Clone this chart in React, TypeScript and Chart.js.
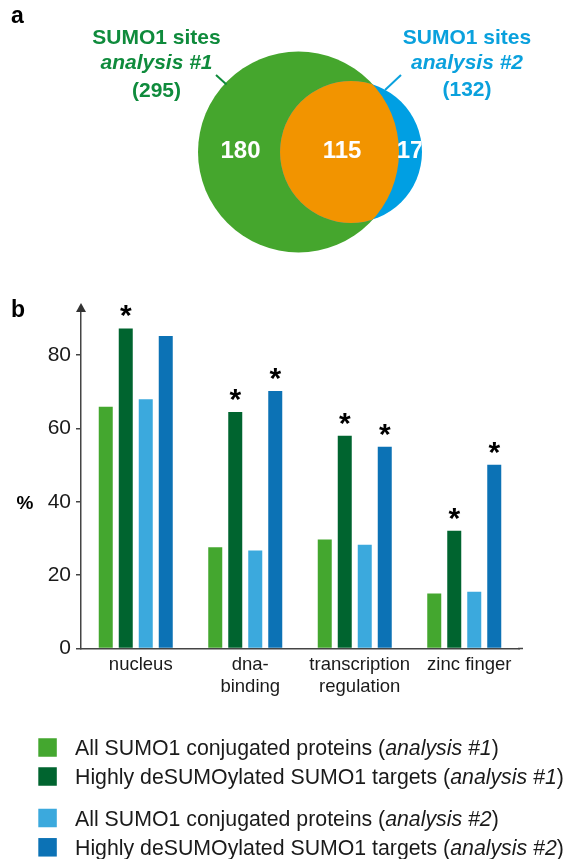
import React, { useEffect, useRef } from 'react';
import { Chart, registerables } from 'chart.js';

Chart.register(...registerables);

const FONT = '"Liberation Sans", Arial, Helvetica, sans-serif';
Chart.defaults.font.family = FONT;

// ---------- panel a : Venn diagram data ----------
const vennSetTitles = ['SUMO1 sites', 'SUMO1 sites'];
const vennSetAnalyses = ['analysis #1', 'analysis #2'];
const vennSetTotals = [295, 132];
const vennRegionCounts = [180, 115, 17]; // only #1, overlap, only #2

// ---------- panel b : grouped bar data ----------
const categories = [['nucleus'], ['dna-', 'binding'], ['transcription', 'regulation'], ['zinc finger']];
const seriesNames = [
  'All SUMO1 conjugated proteins',
  'Highly deSUMOylated SUMO1 targets',
  'All SUMO1 conjugated proteins',
  'Highly deSUMOylated SUMO1 targets',
];
const seriesAnalyses = ['analysis #1', 'analysis #1', 'analysis #2', 'analysis #2'];
const allConjugated1 = [65.9, 27.6, 29.7, 15.0];
const highlyDeSumo1 = [87.3, 64.5, 58.0, 32.1];
const allConjugated2 = [68.0, 26.7, 28.3, 15.5];
const highlyDeSumo2 = [85.2, 70.2, 55.0, 50.1];
const sigAllConjugated1 = [false, false, false, false];
const sigHighlyDeSumo1 = [true, true, true, true];
const sigAllConjugated2 = [false, false, false, false];
const sigHighlyDeSumo2 = [false, true, true, true];
const yTickValues = [0, 20, 40, 60, 80];
const yAxisMax = 91.5;

// ---------- styles / layout ----------
const BAR_COLORS = ['#44a72f', '#00642f', '#3ba9dd', '#0c72b5'];
const VENN_GREEN = '#45a62d';
const VENN_BLUE = '#009fe3';
const VENN_ORANGE = '#f29400';
const TITLE_COLORS = ['#0f8b3c', '#0aa1dd'];
const AXIS = '#444444';
const TEXT = '#1a1a1a';

const VENN_W = 568;
const VENN_H = 285;
const vennCircles = [
  { x: 298.5, y: 152, r: 100.5 },
  { x: 351, y: 152, r: 71 },
];
const vennCountPos = [
  { x: 240.5, y: 151 },
  { x: 342, y: 151 },
  { x: 410, y: 151 },
];
const vennTitlePos = [
  { x: 156.5, y: [43.5, 68.5, 96.5] },
  { x: 467, y: [44, 69, 96] },
];
const vennLeaders = [
  [216, 75, 226.5, 84.5],
  [385, 90, 401, 75],
];

const BAR_TOP = 290;
const BAR_H = 569;
const legendRowY = [747.5, 776.5, 818, 847.3];

const vennPlugin = {
  id: 'vennDecor',
  beforeDatasetDraw(chart: any, args: any) {
    if (chart.data.datasets[args.index].label !== 'overlap') return;
    const g = chart.getDatasetMeta(2).data[0];
    const ctx = chart.ctx;
    ctx.save();
    ctx.beginPath();
    ctx.arc(g.x, g.y, g.options.radius, 0, Math.PI * 2);
    ctx.clip();
  },
  afterDatasetDraw(chart: any, args: any) {
    if (chart.data.datasets[args.index].label !== 'overlap') return;
    chart.ctx.restore();
  },
  afterDraw(chart: any) {
    const ctx = chart.ctx;
    const sx = chart.scales.x;
    const sy = chart.scales.y;
    const px = (v: number) => sx.getPixelForValue(v);
    const py = (v: number) => sy.getPixelForValue(v);

    // panel letter
    ctx.save();
    ctx.fillStyle = '#000';
    ctx.font = `bold 23px ${FONT}`;
    ctx.textAlign = 'left';
    ctx.textBaseline = 'alphabetic';
    ctx.fillText('a', 11, 22.7);

    // set titles
    for (let i = 0; i < 2; i++) {
      const p = vennTitlePos[i];
      ctx.fillStyle = TITLE_COLORS[i];
      ctx.textAlign = 'center';
      ctx.font = `bold 21px ${FONT}`;
      ctx.fillText(vennSetTitles[i], px(p.x), py(p.y[0]));
      ctx.font = `italic bold 21px ${FONT}`;
      ctx.fillText(vennSetAnalyses[i], px(p.x), py(p.y[1]));
      ctx.font = `bold 21px ${FONT}`;
      ctx.fillText(`(${vennSetTotals[i]})`, px(p.x), py(p.y[2]));
      const l = vennLeaders[i];
      ctx.strokeStyle = TITLE_COLORS[i];
      ctx.lineWidth = 2;
      ctx.beginPath();
      ctx.moveTo(px(l[0]), py(l[1]));
      ctx.lineTo(px(l[2]), py(l[3]));
      ctx.stroke();
    }

    // region counts
    ctx.fillStyle = '#ffffff';
    ctx.font = `bold 24px ${FONT}`;
    ctx.textAlign = 'center';
    ctx.textBaseline = 'middle';
    for (let i = 0; i < 2; i++) {
      ctx.fillText(String(vennRegionCounts[i]), px(vennCountPos[i].x), py(vennCountPos[i].y));
    }
    const b = chart.getDatasetMeta(1).data[0];
    ctx.save();
    ctx.beginPath();
    ctx.arc(b.x, b.y, b.options.radius, 0, Math.PI * 2);
    ctx.clip();
    ctx.fillText(String(vennRegionCounts[2]), px(vennCountPos[2].x), py(vennCountPos[2].y));
    ctx.restore();
    ctx.restore();
  },
};

const significance = [sigAllConjugated1, sigHighlyDeSumo1, sigAllConjugated2, sigHighlyDeSumo2];

const barPlugin = {
  id: 'barDecor',
  afterDatasetsDraw(chart: any) {
    const ctx = chart.ctx;
    ctx.save();
    ctx.fillStyle = '#000';
    ctx.font = `bold 30px ${FONT}`;
    ctx.textAlign = 'center';
    ctx.textBaseline = 'alphabetic';
    chart.data.datasets.forEach((_: any, di: number) => {
      const meta = chart.getDatasetMeta(di);
      significance[di].forEach((s: boolean, j: number) => {
        if (!s) return;
        const el = meta.data[j];
        ctx.fillText('*', el.x, el.y - 3);
      });
    });
    ctx.restore();
  },
  afterDraw(chart: any) {
    const ctx = chart.ctx;
    const area = chart.chartArea;
    ctx.save();
    // arrow head on y axis
    ctx.fillStyle = '#333';
    ctx.beginPath();
    ctx.moveTo(area.left, area.top - 10);
    ctx.lineTo(area.left - 5, area.top - 1);
    ctx.lineTo(area.left + 5, area.top - 1);
    ctx.closePath();
    ctx.fill();
    // small extension of the x axis line
    ctx.strokeStyle = AXIS;
    ctx.lineWidth = 1.5;
    ctx.beginPath();
    ctx.moveTo(area.right - 1, area.bottom);
    ctx.lineTo(area.right + 4, area.bottom);
    ctx.stroke();

    // panel letter and axis symbol
    ctx.fillStyle = '#000';
    ctx.textBaseline = 'alphabetic';
    ctx.textAlign = 'left';
    ctx.font = `bold 23px ${FONT}`;
    ctx.fillText('b', 11, 316.7 - BAR_TOP);
    ctx.textAlign = 'center';
    ctx.font = `bold 19px ${FONT}`;
    ctx.fillText('%', 25, 509 - BAR_TOP);

    // legend
    for (let i = 0; i < seriesNames.length; i++) {
      const cy = legendRowY[i] - BAR_TOP;
      ctx.fillStyle = BAR_COLORS[i];
      ctx.fillRect(38.3, cy - 9.25, 18.5, 18.5);
      ctx.fillStyle = TEXT;
      ctx.textAlign = 'left';
      let x = 75;
      const base = cy + 7.6;
      const part1 = `${seriesNames[i]} (`;
      ctx.font = `21.3px ${FONT}`;
      ctx.fillText(part1, x, base);
      x += ctx.measureText(part1).width;
      ctx.font = `italic 21.3px ${FONT}`;
      ctx.fillText(seriesAnalyses[i], x, base);
      x += ctx.measureText(seriesAnalyses[i]).width;
      ctx.font = `21.3px ${FONT}`;
      ctx.fillText(')', x, base);
    }
    ctx.restore();
  },
};

export default function App() {
  const vennRef = useRef<HTMLCanvasElement | null>(null);
  const barRef = useRef<HTMLCanvasElement | null>(null);

  useEffect(() => {
    const venn = new Chart(vennRef.current as HTMLCanvasElement, {
      type: 'bubble',
      data: {
        datasets: [
          { label: 'overlap', data: [{ ...vennCircles[1] }], backgroundColor: VENN_ORANGE, borderWidth: 0, order: 1, clip: false } as any,
          { label: 'set2', data: [{ ...vennCircles[1] }], backgroundColor: VENN_BLUE, borderWidth: 0, order: 2, clip: false } as any,
          { label: 'set1', data: [{ ...vennCircles[0] }], backgroundColor: VENN_GREEN, borderWidth: 0, order: 3, clip: false } as any,
        ],
      },
      options: {
        animation: false,
        responsive: false,
        events: [],
        layout: { padding: 0, autoPadding: false },
        plugins: { legend: { display: false }, tooltip: { enabled: false } },
        scales: {
          x: { type: 'linear', min: 0, max: VENN_W, display: false },
          y: { type: 'linear', min: 0, max: VENN_H, reverse: true, display: false },
        },
      } as any,
      plugins: [vennPlugin as any],
    });

    const seriesValues = [allConjugated1, highlyDeSumo1, allConjugated2, highlyDeSumo2];
    const bars = new Chart(barRef.current as HTMLCanvasElement, {
      type: 'bar',
      data: {
        labels: categories as any,
        datasets: seriesValues.map((vals, i) => ({
          label: `${seriesNames[i]} (${seriesAnalyses[i]})`,
          data: vals,
          backgroundColor: BAR_COLORS[i],
          borderWidth: 0,
          categoryPercentage: 80 / 109.5,
          barPercentage: 0.7,
        })),
      },
      options: {
        animation: false,
        responsive: false,
        events: [],
        layout: { padding: { top: 23, right: 49, left: 0, bottom: BAR_H - (648.5 - BAR_TOP) - 60 } },
        plugins: { legend: { display: false }, tooltip: { enabled: false } },
        scales: {
          x: {
            grid: { display: false, drawTicks: false },
            border: { display: true, color: AXIS, width: 1.5 },
            ticks: {
              color: TEXT,
              font: { family: FONT, size: 18.5, lineHeight: 1.17 },
              padding: 6,
              labelOffset: 5,
              maxRotation: 0,
              autoSkip: false,
            },
            afterFit: (s: any) => {
              s.height = 60;
            },
          },
          y: {
            min: 0,
            max: yAxisMax,
            afterBuildTicks: (s: any) => {
              s.ticks = yTickValues.map((v) => ({ value: v }));
            },
            grid: { drawOnChartArea: false, drawTicks: true, tickLength: 5, color: AXIS, lineWidth: 1.5 },
            border: { display: true, color: AXIS, width: 1.5 },
            ticks: { color: TEXT, font: { family: FONT, size: 21 }, padding: 5 },
            afterFit: (s: any) => {
              s.width = 81;
            },
          },
        },
      } as any,
      plugins: [barPlugin as any],
    });

    return () => {
      venn.destroy();
      bars.destroy();
    };
  }, []);

  return (
    <div style={{ position: 'absolute', left: 0, top: 0, width: 568, height: 859, background: '#fff', overflow: 'hidden' }}>
      <canvas ref={vennRef} width={VENN_W} height={VENN_H} style={{ position: 'absolute', left: 0, top: 0 }} />
      <canvas ref={barRef} width={568} height={BAR_H} style={{ position: 'absolute', left: 0, top: BAR_TOP }} />
    </div>
  );
}
